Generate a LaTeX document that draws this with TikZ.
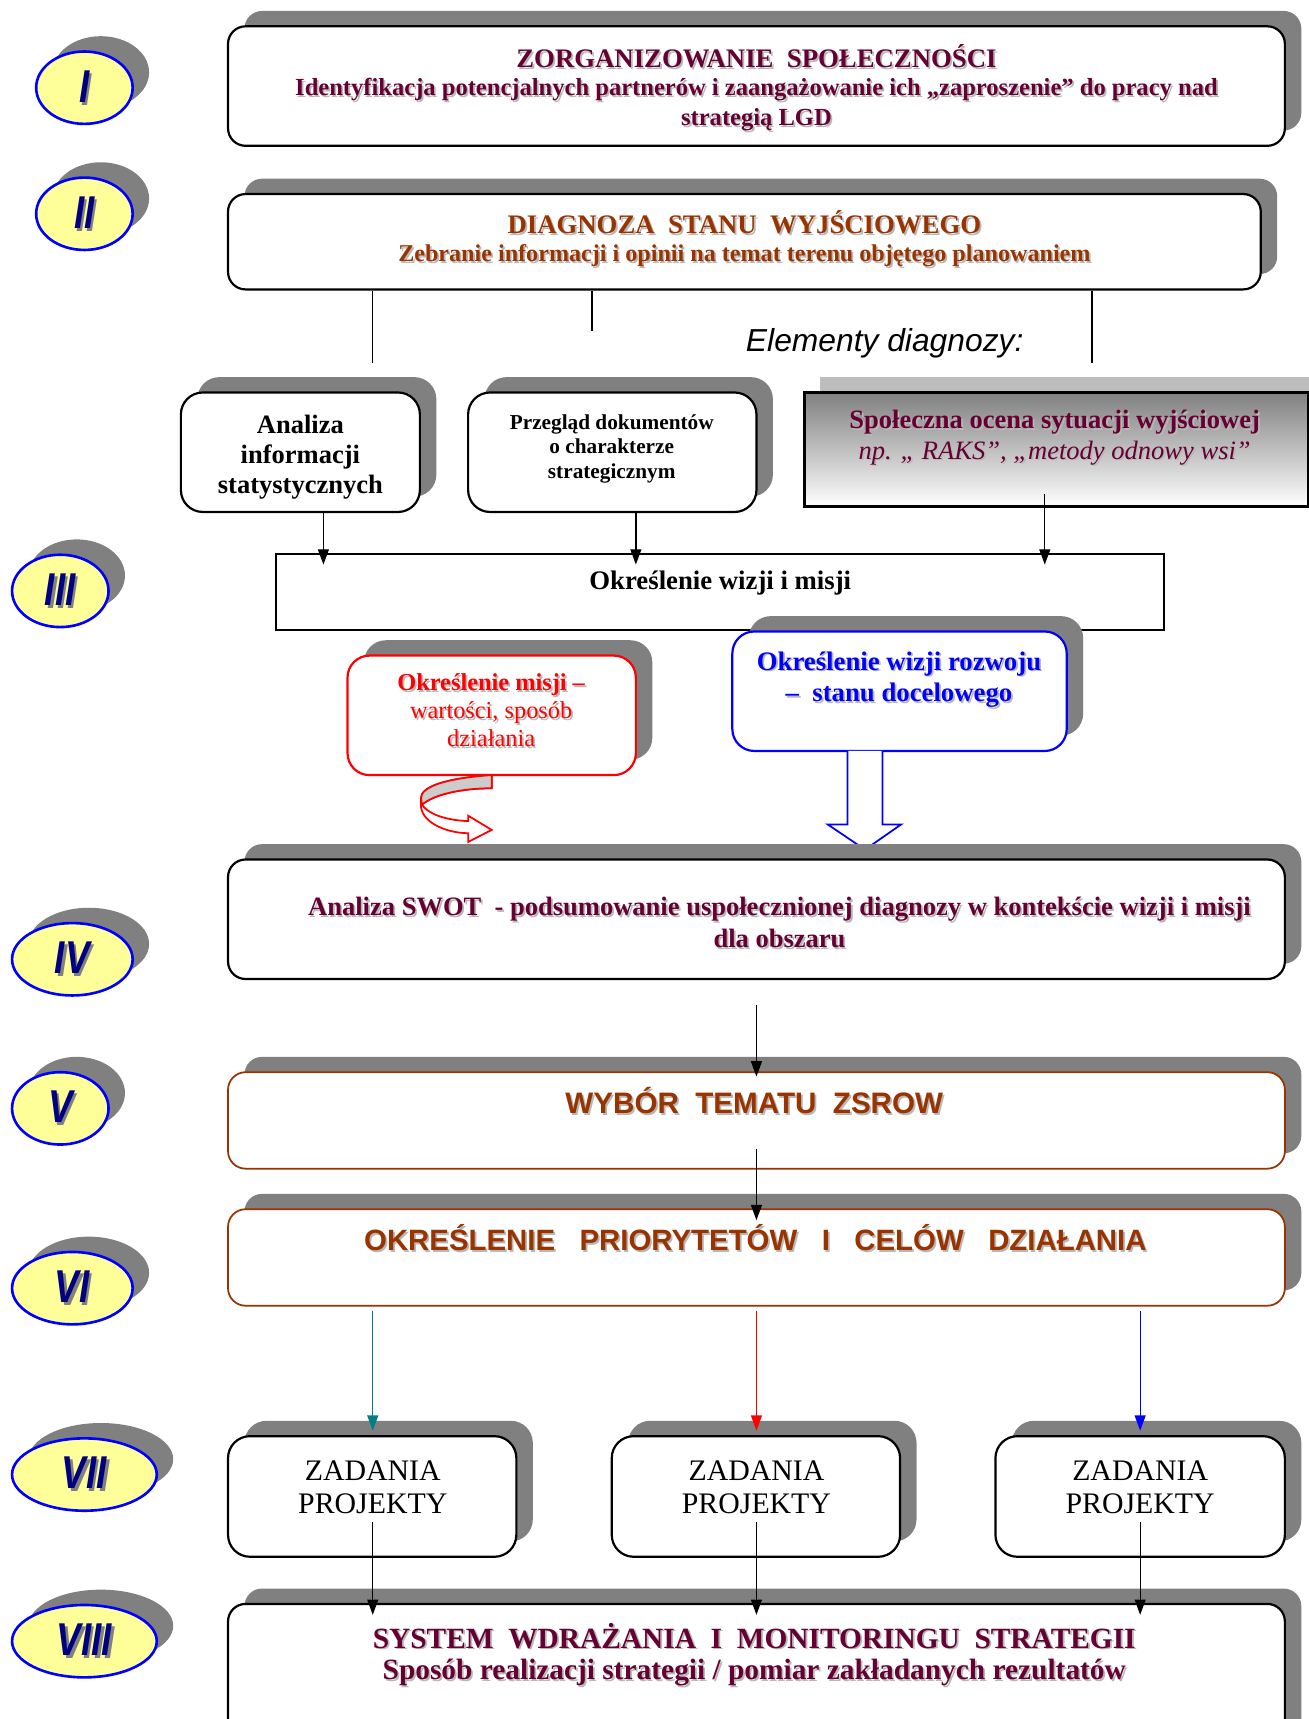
\documentclass[tikz,border=0pt]{standalone}
\usepackage{fontspec}
\setmainfont{Liberation Serif}
\setsansfont{Liberation Sans}
\usepackage{graphicx}
\usetikzlibrary{shapes.geometric,shadows,arrows.meta}
\definecolor{maroon}{HTML}{660033}
\definecolor{brownc}{HTML}{993300}
\definecolor{navy}{HTML}{000080}
\definecolor{pale}{HTML}{FFFF99}
\definecolor{shgray}{HTML}{808080}
\definecolor{tealc}{HTML}{008080}
\definecolor{tsh}{HTML}{B8B8B8}
\definecolor{chk}{HTML}{BDBDBD}
\newcommand\fs[2]{\fontsize{#1}{#2}\selectfont}
\newcommand\rnum[1]{\scalebox{0.8}[1]{\makebox[0pt][l]{\hspace{1.4pt}\raisebox{-1.4pt}{\textcolor{shgray}{#1}}}#1}}
\newcommand\stxt[4]{%
  \node[txt,#2,text=tsh,xshift=0.8pt,yshift=-0.8pt] (#1s) at (#3) {#4};
  \node[txt,#2] (#1) at (#3) {#4};}
\begin{document}
\begin{tikzpicture}[x=0.5pt,y=-0.5pt,
  box/.style={draw, line width=1pt, rounded corners=8pt, fill=white,
    drop shadow={shadow xshift=7.5pt,shadow yshift=7pt,fill=shgray,opacity=1}},
  rn/.style={ellipse, draw=blue, line width=1.2pt, fill=pale, inner sep=0pt,
    minimum height=33pt, text=navy,
    font=\sffamily\bfseries\itshape\fs{21}{21},
    drop shadow={shadow xshift=7.5pt,shadow yshift=7pt,fill=shgray,opacity=1}},
  txt/.style={align=center, inner sep=0pt},
  arr/.style={line width=0.6pt, -{Triangle[length=7pt,width=5pt]}},
  thin/.style={line width=0.6pt}]
\useasboundingbox (0,0) rectangle (1194,1568);
\clip (0,0) rectangle (1194,1568);

% roman numerals
\node[rn,minimum width=44pt] (r1) at (77,80) {\rnum{I}};
\node[rn,minimum width=44pt] (r2) at (77,195) {\rnum{II}};
\node[rn,minimum width=44pt] (r3) at (55,539) {\rnum{III}};
\node[rn,minimum width=55pt] (r4) at (66,875) {\rnum{IV}};
\node[rn,minimum width=44pt] (r5) at (55,1011) {\rnum{V}};
\node[rn,minimum width=55pt] (r6) at (66,1175) {\rnum{VI}};
\node[rn,minimum width=66pt] (r7) at (77,1345) {\rnum{VII}};
\node[rn,minimum width=66pt] (r8) at (77,1497) {\rnum{VIII}};

% I
\node[box,minimum width=482pt,minimum height=54.5pt] (b1) at (690,78.5) {};
\stxt{t1}{text=maroon,font=\bfseries\fs{12.2}{13}}{690,51.5}{ZORGANIZOWANIE~~SPOŁECZNOŚCI}
\stxt{t1b}{text=maroon,font=\bfseries\fs{11.2}{13.5}}{690,95.5}{Identyfikacja potencjalnych partnerów i zaangażowanie ich „zaproszenie” do pracy nad\\strategią LGD}

% II
\node[box,minimum width=471pt,minimum height=43.5pt] (b2) at (679,220.5) {};
\stxt{t2}{text=brownc,font=\bfseries\fs{12.2}{13}}{679,203}{DIAGNOZA~~STANU~~WYJŚCIOWEGO}
\stxt{t2b}{text=brownc,font=\bfseries\fs{11}{12}}{679,233}{Zebranie informacji i opinii na temat terenu objętego planowaniem}

\coordinate (d1) at (340,331);
\coordinate (d2) at (540,302);
\coordinate (d3) at (996,331);
\draw[thin] (d1 |- b2.south) -- (d1);
\draw[thin] (d2 |- b2.south) -- (d2);
\draw[thin] (d3 |- b2.south) -- (d3);
\node[txt,font=\sffamily\itshape\fs{14.5}{16}] (el) at (807,313) {Elementy diagnozy:};

% diagnosis elements
\node[box,rounded corners=10pt,minimum width=109pt,minimum height=54.5pt] (ana) at (274,412.5) {};
\node[txt,font=\bfseries\fs{12.1}{13.75}] (anat) at (274,417) {Analiza\\informacji\\statystycznych};
\node[box,rounded corners=10pt,minimum width=131.5pt,minimum height=54.5pt] (prz) at (558.5,412.5) {};
\node[txt,font=\bfseries\fs{9.7}{11.25}] (przt) at (558,409.5) {Przegląd dokumentów\\o charakterze\\strategicznym};
\fill[chk] (748,344) rectangle (1194,358);
\node[draw,line width=1.2pt,top color=shgray,bottom color=white,minimum width=229.5pt,minimum height=52pt] (spo) at (963.5,410) {};
\stxt{spot}{text=maroon,font=\fs{12.1}{14}}{962,399}{{\bfseries Społeczna ocena sytuacji wyjściowej}\\{\itshape np. „ RAKS”, „metody odnowy wsi”}}

% III
\node[draw,line width=1pt,fill=white,minimum width=405pt,minimum height=35pt] (wm) at (657,540) {};
\node[txt,font=\bfseries\fs{12.2}{13}] (wmt) at (657,532) {Określenie wizji i misji};
\coordinate (a1) at (295,515);
\coordinate (a2) at (580,515);
\coordinate (a3) at (953,515);
\coordinate (a3s) at (953,451);
\draw[arr] (a1 |- ana.south) -- (a1);
\draw[arr] (a2 |- prz.south) -- (a2);
\draw[arr] (a3s) -- (a3);

\node[box,draw=red,rounded corners=10pt,minimum width=131.5pt,minimum height=54.5pt] (mis) at (448.5,652.5) {};
\stxt{mist}{text=red,font=\fs{11.1}{12.75}}{448,648}{{\bfseries Określenie misji –}\\wartości, sposób\\działania}
\node[box,draw=blue,rounded corners=10pt,minimum width=152.5pt,minimum height=54.5pt] (wiz) at (820.5,630.5) {};
\stxt{wizt}{text=blue,font=\bfseries\fs{12.2}{14.5}}{820,620}{Określenie wizji rozwoju\\–~~stanu docelowego}

% block arrows
\filldraw[draw=blue,fill=white,line width=0.8pt] (773,685) -- (773,752) -- (755,752) -- (789,775) -- (822,752) -- (805,752) -- (805,685);
\filldraw[draw=red,fill=white,line width=0.8pt] (448.5,707) .. controls (405,710) and (384,718) .. (384,728) -- (384,736) .. controls (386,752) and (410,760) .. (427,760) -- (427,768) -- (448.5,757) -- (427,744) -- (427,749) .. controls (405,748) and (390,742) .. (385,734) .. controls (395,725) and (420,719) .. (448.5,719) -- cycle;
\filldraw[draw=red,fill=black!20,line width=0.8pt] (448.5,707) .. controls (405,710) and (384,718) .. (384,728) -- (385,734) .. controls (395,725) and (420,719) .. (448.5,719) -- cycle;

% IV
\node[box,minimum width=482pt,minimum height=54.5pt] (b4) at (690,838.5) {};
\stxt{t4}{text=maroon,font=\bfseries\fs{12.1}{14.5}}{711,841.5}{Analiza SWOT~~- podsumowanie uspołecznionej diagnozy w kontekście wizji i misji\\dla obszaru}

% V
\node[box,draw=brownc,line width=0.8pt,minimum width=482pt,minimum height=44pt] (b5) at (690,1022) {};
\stxt{t5}{text=brownc,font=\sffamily\bfseries\fs{13.5}{15}}{688,1004}{WYBÓR~~TEMATU~~ZSROW}
\coordinate (s4) at (690,917);
\coordinate (e4) at (690,982);
\draw[arr] (s4) -- (e4);

% VI
\node[box,draw=brownc,line width=0.8pt,minimum width=482pt,minimum height=44pt] (b6) at (690,1147) {};
\stxt{t6}{text=brownc,font=\sffamily\bfseries\fs{13.4}{15}}{689,1129}{OKREŚLENIE~~~PRIORYTETÓW~~~I~~~CELÓW~~~DZIAŁANIA}
\coordinate (s5) at (690,1048);
\coordinate (e5) at (690,1113);
\draw[arr] (s5) -- (e5);

% VII
\node[box,rounded corners=10pt,minimum width=131.5pt,minimum height=55pt] (z1) at (339.5,1365) {};
\node[box,rounded corners=10pt,minimum width=131.5pt,minimum height=55pt] (z2) at (689.5,1365) {};
\node[box,rounded corners=10pt,minimum width=132pt,minimum height=55pt] (z3) at (1040,1365) {};
\node[txt,font=\fs{13.6}{15}] (z1t) at (340,1356.5) {ZADANIA\\PROJEKTY};
\node[txt,font=\fs{13.6}{15}] (z2t) at (690,1356.5) {ZADANIA\\PROJEKTY};
\node[txt,font=\fs{13.6}{15}] (z3t) at (1040,1356.5) {ZADANIA\\PROJEKTY};
\coordinate (c1) at (340,1196); \coordinate (c2) at (690,1196); \coordinate (c3) at (1040,1196);
\coordinate (f1) at (340,1305); \coordinate (f2) at (690,1305); \coordinate (f3) at (1040,1305);
\draw[arr,tealc] (c1) -- (f1);
\draw[arr,red] (c2) -- (f2);
\draw[arr,blue] (c3) -- (f3);

% VIII
\node[box,minimum width=482pt,minimum height=78.5pt] (b8) at (690,1541.5) {};
\stxt{t8}{text=maroon,font=\bfseries\fs{13.4}{15}}{688,1492}{SYSTEM~~WDRAŻANIA~~I~~MONITORINGU~~STRATEGII}
\stxt{t8b}{text=maroon,font=\bfseries\fs{13.4}{15}}{688,1526}{Sposób realizacji strategii / pomiar zakładanych rezultatów}
\coordinate (g1) at (340,1388); \coordinate (g2) at (690,1388); \coordinate (g3) at (1040,1388);
\coordinate (h1) at (340,1473); \coordinate (h2) at (690,1473); \coordinate (h3) at (1040,1473);
\draw[arr] (g1) -- (h1);
\draw[arr] (g2) -- (h2);
\draw[arr] (g3) -- (h3);
\end{tikzpicture}
\end{document}
